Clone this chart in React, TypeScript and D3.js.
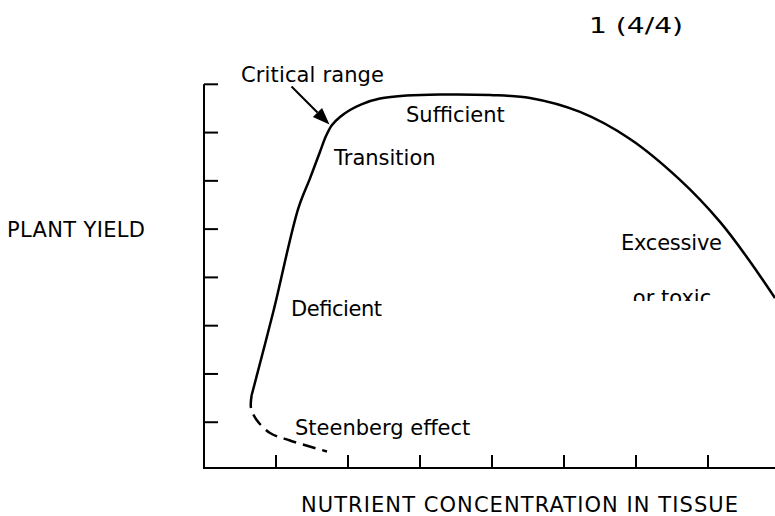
import * as d3 from 'd3'

const W = 775
const H = 516

// response curve, nutrient concentration (x) vs yield (y), in axis units
const yieldX = [0.6625, 0.9625, 1.3097, 1.4722, 1.6111, 1.6944, 1.7778, 1.8889, 2.0278, 2.1944, 2.4444, 2.8153, 3.2778, 3.9722, 4.5278, 5.2222, 5.9167, 6.6111, 7.1667, 7.5556, 7.9306]
const yieldY = [1.564, 3.289, 5.431, 6.052, 6.603, 6.928, 7.156, 7.322, 7.467, 7.591, 7.705, 7.767, 7.788, 7.778, 7.716, 7.427, 6.866, 6.019, 5.15, 4.387, 3.573]

// Steenberg effect dip (dashed)
const steenX = [0.6625, 0.653, 0.732, 0.917, 1.194, 1.708]
const steenY = [1.564, 1.294, 1.046, 0.777, 0.621, 0.393]

const xTicks = [1, 2, 3, 4, 5, 6, 7]
const yTicks = [1, 2, 3, 4, 5, 6, 7, 8]

// text, anchor point, fitted width (0 = natural)
const labels = [
  { text: 'Critical range', x: 241, y: 82, len: 143, adj: 'spacing' },
  { text: 'Sufficient', x: 406, y: 122, len: 0, adj: 'spacing' },
  { text: 'Transition', x: 334, y: 165, len: 0, adj: 'spacing' },
  { text: 'Deficient', x: 291, y: 316, len: 91, adj: 'spacing' },
  { text: 'Steenberg effect', x: 295, y: 435, len: 0, adj: 'spacing' },
  { text: 'Excessive', x: 621, y: 250, len: 101, adj: 'spacing' },
  { text: '1 (4/4)', x: 589, y: 33, len: 94, adj: 'spacingAndGlyphs' },
  { text: 'PLANT YIELD', x: 7, y: 237, len: 138, adj: 'spacing' },
  { text: 'NUTRIENT CONCENTRATION IN TISSUE', x: 301, y: 512, len: 437, adj: 'spacing' },
]

const FONT = '"DejaVu Sans", Verdana, sans-serif'
const FS = 21

export default function App() {
  const x = d3.scaleLinear().domain([0, 8]).range([204, 780])
  const y = d3.scaleLinear().domain([0, 8]).range([470.5, 84.3])
  const axisY = 468

  const line = d3.line<[number, number]>()
    .x(d => x(d[0]))
    .y(d => y(d[1]))
    .curve(d3.curveCatmullRom.alpha(0.5))

  const main = line(yieldX.map((v, i) => [v, yieldY[i]] as [number, number]))
  const dip = line(steenX.map((v, i) => [v, steenY[i]] as [number, number]))

  // arrow pointing at critical range
  const a0 = [291.5, 86.5]
  const a1 = [329.5, 124.5]
  const ang = Math.atan2(a1[1] - a0[1], a1[0] - a0[0])
  const hl = 17, hw = 6.5
  const bx = a1[0] - hl * Math.cos(ang), by = a1[1] - hl * Math.sin(ang)
  const head = [
    [a1[0], a1[1]],
    [bx + hw * Math.sin(ang), by - hw * Math.cos(ang)],
    [bx - hw * Math.sin(ang), by + hw * Math.cos(ang)],
  ].map(p => p.join(',')).join(' ')

  return (
    <svg width={W} height={H} style={{ position: 'absolute', left: 0, top: 0, background: '#fff' }}
      fontFamily={FONT} fontSize={FS}>
      <defs>
        <clipPath id="toxic-clip">
          <rect x={0} y={0} width={W} height={301} />
        </clipPath>
      </defs>

      {/* axes */}
      <line x1={x(0)} x2={x(0)} y1={axisY} y2={y(8)} stroke="#000" strokeWidth={2} />
      <line x1={x(0) - 1} x2={x(8)} y1={axisY} y2={axisY} stroke="#000" strokeWidth={2} />
      {yTicks.map(t => (
        <line key={'y' + t} x1={x(0)} x2={x(0) + 14} y1={y(t)} y2={y(t)} stroke="#000" strokeWidth={2} />
      ))}
      {xTicks.map(t => (
        <line key={'x' + t} x1={x(t)} x2={x(t)} y1={axisY} y2={axisY - 13} stroke="#000" strokeWidth={2} />
      ))}

      {/* curves */}
      <path d={main ?? ''} fill="none" stroke="#000" strokeWidth={2.5} strokeLinejoin="round" />
      <path d={dip ?? ''} fill="none" stroke="#000" strokeWidth={2.5} strokeDasharray="13,7" />

      {/* arrow */}
      <line x1={a0[0]} y1={a0[1]} x2={bx} y2={by} stroke="#000" strokeWidth={2} />
      <polygon points={head} fill="#000" />

      {labels.map(l => (
        <text key={l.text} x={l.x} y={l.y} fill="#000"
          {...(l.len ? { textLength: l.len, lengthAdjust: l.adj } : {})}>{l.text}</text>
      ))}
      <text x={672} y={305} textAnchor="middle" fill="#000" clipPath="url(#toxic-clip)">or toxic</text>
    </svg>
  )
}
